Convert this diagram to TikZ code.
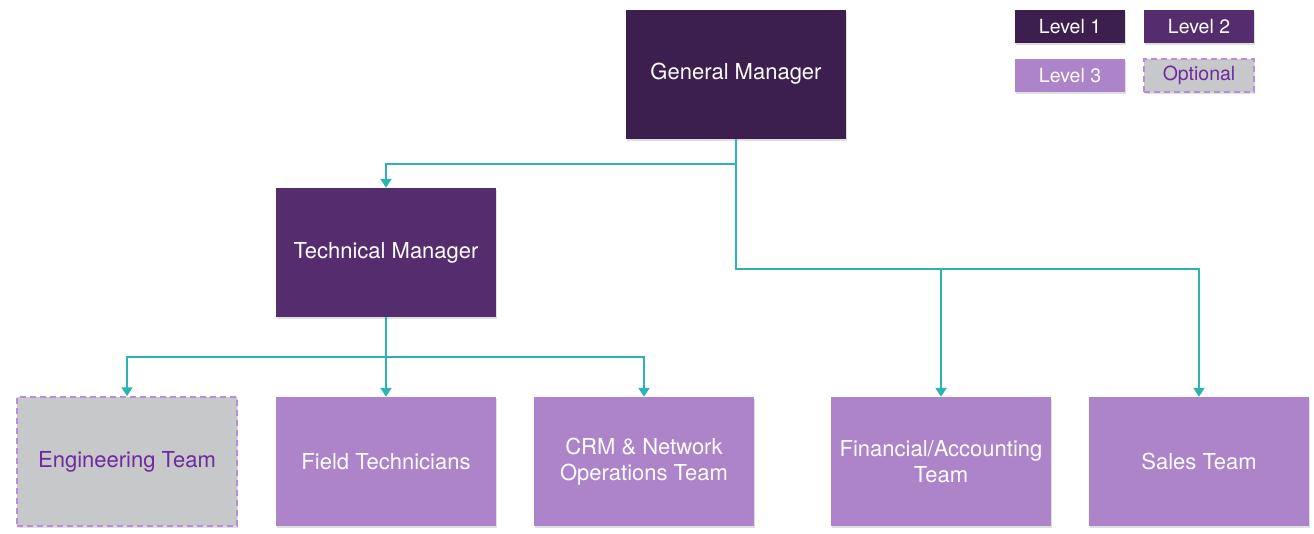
\documentclass[tikz,border=0pt]{standalone}
\usepackage{fontspec}
\setmainfont{TeX Gyre Heros}
\usepackage{xcolor}
\definecolor{orgone}{HTML}{3C1F4F}
\definecolor{orgtwo}{HTML}{552D6E}
\definecolor{orgthree}{HTML}{AD83CA}
\definecolor{orggray}{HTML}{C6C8CA}
\definecolor{orgdash}{HTML}{BA8CDB}
\definecolor{orgtext}{HTML}{6E2A9E}
\definecolor{orgteal}{HTML}{2CB3B4}
\usepackage{tikz}
\usetikzlibrary{arrows.meta,shadows}
\tikzset{
  orgbase/.style={rectangle,inner sep=0pt,align=center,text=white,drop shadow={shadow xshift=1pt,shadow yshift=-2pt,opacity=0.25}},
  orgbig/.style={orgbase,minimum width=220pt,minimum height=129pt,font=\fontsize{22}{26}\selectfont},
  orgsmall/.style={orgbase,minimum width=110pt,minimum height=33pt,font=\fontsize{19.5}{22}\selectfont},
  orglvlone/.style={fill=orgone},
  orglvltwo/.style={fill=orgtwo},
  orglvlthree/.style={fill=orgthree},
  orgopt/.style={fill=orggray,draw=orgdash,line width=1.5pt,dash pattern=on 6pt off 4pt,text=orgtext},
  orgflow/.style={draw=orgteal,line width=2pt,-{Triangle[length=9pt,width=11pt]}},
}

\begin{document}
\begin{tikzpicture}[x=1pt,y=-1pt]
\useasboundingbox (0,0) rectangle (1314,533);
% legend
\node[orgsmall,orglvlone] (lvone) at (1070,26.5){Level 1};
\node[orgsmall,orglvltwo] (lvtwo) at (1199,26.5){Level 2};
\node[orgsmall,orglvlthree] (lvthree) at (1070,75.5){Level 3};
\node[orgsmall,orgopt] (lvopt) at (1199,75.5){Optional};
% managers
\node[orgbig,orglvlone] (gm) at (736,74){General Manager};
\node[orgbig,orglvltwo] (tm) at (386,252.5){Technical Manager};
% teams
\node[orgbig,orgopt] (eng) at (127,461.5){Engineering Team};
\node[orgbig,orglvlthree] (fld) at (386,461.5){Field Technicians};
\node[orgbig,orglvlthree] (crm) at (644,461.5){CRM \& Network\\Operations Team};
\node[orgbig,orglvlthree] (fin) at (941,461.5){Financial/Accounting\\Team};
\node[orgbig,orglvlthree] (sal) at (1199,461.5){Sales Team};
% links
\draw[orgflow] (gm.south) -- ++(0,25) -| (tm.north);
\draw[orgflow] (gm.south) -- ++(0,130) -| (fin.north);
\draw[orgflow] (gm.south) -- ++(0,130) -| (sal.north);
\draw[orgflow] (tm.south) -- ++(0,40) -| (eng.north);
\draw[orgflow] (tm.south) -- (fld.north);
\draw[orgflow] (tm.south) -- ++(0,40) -| (crm.north);
\end{tikzpicture}
\end{document}
